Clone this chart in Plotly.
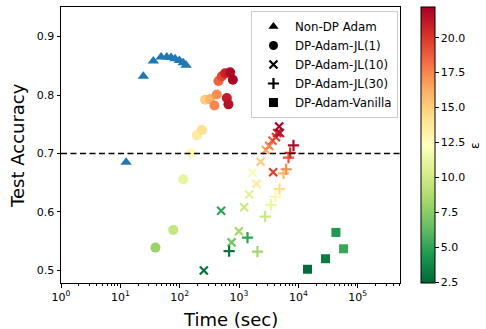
import plotly.graph_objects as go

# ---------------- data ----------------
nondp_time = [12.5, 24.4, 36, 48.6, 60.6, 71.6, 83.6, 98.8, 115, 128]
nondp_acc = [0.685, 0.832, 0.858, 0.865, 0.865, 0.864, 0.862, 0.859, 0.855, 0.851]

jl1_time = [39, 78, 115, 156, 194, 236, 268, 326, 385, 422, 450, 513, 583, 708, 786, 623, 663]
jl1_acc = [0.539, 0.569, 0.656, 0.701, 0.731, 0.740, 0.792, 0.793, 0.782, 0.801,
           0.824, 0.832, 0.837, 0.839, 0.826, 0.795, 0.784]
jl1_eps = [8.0, 9.5, 11.0, 12.6, 13.6, 14.2, 15.0, 16.0, 17.5, 17.3,
           18.6, 19.5, 20.8, 21.8, 22.0, 21.0, 21.5]

jl10_time = [255, 499, 748, 993, 1219, 1483, 1690, 1977, 2308, 2831, 3221, 3675,
             4178, 4396, 4875, 4744, 3758]
jl10_acc = [0.500, 0.602, 0.548, 0.567, 0.608, 0.630, 0.667, 0.648, 0.686, 0.706,
            0.713, 0.722, 0.728, 0.735, 0.735, 0.746, 0.668]
jl10_eps = [2.8, 5.0, 6.8, 8.3, 9.8, 10.8, 12.0, 13.5, 15.0, 16.5,
            17.5, 18.5, 19.5, 20.5, 21.5, 22.0, 19.8]

jl30_time = [681, 1387, 2043, 2754, 3436, 4111, 4800, 5610, 6226, 6810, 7278, 8266]
jl30_acc = [0.533, 0.556, 0.532, 0.592, 0.612, 0.626, 0.639, 0.666, 0.673, 0.693, 0.701, 0.714]
jl30_eps = [3.0, 5.0, 8.3, 9.8, 11.3, 13.0, 14.3, 15.8, 17.3, 19.0, 20.3, 21.8]

van_time = [14230, 28640, 42860, 57700]
van_acc = [0.502, 0.520, 0.565, 0.537]
van_eps = [2.6, 3.3, 4.5, 5.2]

threshold = 0.7
cbar_ticks = [2.5, 5.0, 7.5, 10.0, 12.5, 15.0, 17.5, 20.0]
x_major = [1, 10, 100, 1000, 10000, 100000]
x_major_text = ["10<sup>0</sup>", "10<sup>1</sup>", "10<sup>2</sup>",
                "10<sup>3</sup>", "10<sup>4</sup>", "10<sup>5</sup>"]

legend_names = ["Non-DP Adam", "DP-Adam-JL(1)", "DP-Adam-JL(10)",
                "DP-Adam-JL(30)", "DP-Adam-Vanilla"]

# ---------------- style ----------------
FONT = "DejaVu Sans"
rdylgn_r = ["#006837", "#1a9850", "#66bd63", "#a6d96a", "#d9ef8b", "#ffffbf",
            "#fee08b", "#fdae61", "#f46d43", "#d73027", "#a50026"]
colorscale = [[i / 10, c] for i, c in enumerate(rdylgn_r)]

fig = go.Figure()

fig.add_trace(go.Scatter(
    x=nondp_time, y=nondp_acc, mode="markers", showlegend=False,
    marker=dict(symbol="triangle-up", size=10, color="#1f77b4", line=dict(width=0))))

fig.add_trace(go.Scatter(
    x=jl1_time, y=jl1_acc, mode="markers", showlegend=False,
    marker=dict(symbol="circle", size=10, color=jl1_eps, coloraxis="coloraxis",
                line=dict(width=0))))

fig.add_trace(go.Scatter(
    x=jl10_time, y=jl10_acc, mode="markers", showlegend=False,
    marker=dict(symbol="x-thin", size=8, color=jl10_eps, coloraxis="coloraxis",
                line=dict(width=2.2, color=jl10_eps, coloraxis="coloraxis"))))

fig.add_trace(go.Scatter(
    x=jl30_time, y=jl30_acc, mode="markers", showlegend=False,
    marker=dict(symbol="cross-thin", size=8, color=jl30_eps, coloraxis="coloraxis",
                line=dict(width=2.2, color=jl30_eps, coloraxis="coloraxis"))))

fig.add_trace(go.Scatter(
    x=van_time, y=van_acc, mode="markers", showlegend=False,
    marker=dict(symbol="square", size=9, color=van_eps, coloraxis="coloraxis",
                line=dict(width=0))))

# legend proxies (black markers)
leg_symbols = ["triangle-up", "circle", "x-thin", "cross-thin", "square"]
for name, sym in zip(legend_names, leg_symbols):
    thin = sym.endswith("thin")
    fig.add_trace(go.Scatter(
        x=[None], y=[None], mode="markers", name=name,
        marker=dict(symbol=sym, size=9 if not thin else 8, color="black",
                    line=dict(width=2.2 if thin else 0, color="black"))))

fig.add_shape(type="line", xref="paper", x0=0, x1=1, yref="y", y0=threshold, y1=threshold,
              line=dict(color="black", width=1.6, dash="6px,3.5px"))

minor_vals = [m * 10 ** d for d in range(0, 6) for m in range(2, 10)]

fig.update_layout(
    width=486, height=329,
    margin=dict(l=61, r=86, t=7, b=46, autoexpand=False),
    paper_bgcolor="white", plot_bgcolor="white",
    font=dict(family=FONT, size=11, color="black"),
    coloraxis=dict(
        colorscale=colorscale, cmin=2.43, cmax=22.2,
        colorbar=dict(
            x=1.062, xanchor="left", xref="paper", y=0.5, yanchor="middle",
            len=1, lenmode="fraction", thickness=14, xpad=0, ypad=0,
            outlinewidth=1, outlinecolor="black",
            tickvals=cbar_ticks, ticktext=[f"{v:.1f}" for v in cbar_ticks],
            ticks="outside", ticklen=3.5, tickwidth=1, tickcolor="black",
            tickfont=dict(family=FONT, size=11, color="black"),
        )),
    xaxis=dict(
        type="log", range=[0, 5.712], automargin=False,
        tickvals=x_major, ticktext=x_major_text,
        ticks="outside", ticklen=3.5, tickwidth=1, tickcolor="black",
        minor=dict(tickvals=minor_vals, ticks="outside", ticklen=2, tickwidth=0.8,
                   tickcolor="black", showgrid=False),
        showgrid=False, zeroline=False,
        showline=True, mirror=True, linecolor="black", linewidth=1,
        tickfont=dict(family=FONT, size=11),
    ),
    yaxis=dict(
        range=[0.4785, 0.9505], automargin=False,
        tickvals=[0.5, 0.6, 0.7, 0.8, 0.9],
        ticktext=["0.5", "0.6", "0.7", "0.8", "0.9"],
        ticks="outside", ticklen=3.5, tickwidth=1, tickcolor="black",
        showgrid=False, zeroline=False,
        showline=True, mirror=True, linecolor="black", linewidth=1,
        tickfont=dict(family=FONT, size=11),
    ),
    legend=dict(
        x=0.994, xanchor="right", y=0.9855, yanchor="top",
        bgcolor="rgba(255,255,255,0.8)", bordercolor="#cccccc", borderwidth=1,
        font=dict(family=FONT, size=11.8), tracegroupgap=0, itemwidth=33,
    ),
    annotations=[
        dict(text="ε", xref="paper", yref="paper", x=1.221, y=0.5,
             xanchor="center", yanchor="middle",
             showarrow=False, textangle=-90, font=dict(family=FONT, size=12)),
        dict(text="Time (sec)", xref="paper", yref="paper", x=0.5, y=-0.134,
             xanchor="center", yanchor="middle", showarrow=False,
             font=dict(family=FONT, size=18)),
        dict(text="Test Accuracy", xref="paper", yref="paper", x=-0.13, y=0.5,
             xanchor="center", yanchor="middle", showarrow=False, textangle=-90,
             font=dict(family=FONT, size=18)),
    ],
)

fig.write_html("out.html", config={"displayModeBar": False},
               post_script="document.body.style.margin='0';document.body.style.overflow='hidden';")
